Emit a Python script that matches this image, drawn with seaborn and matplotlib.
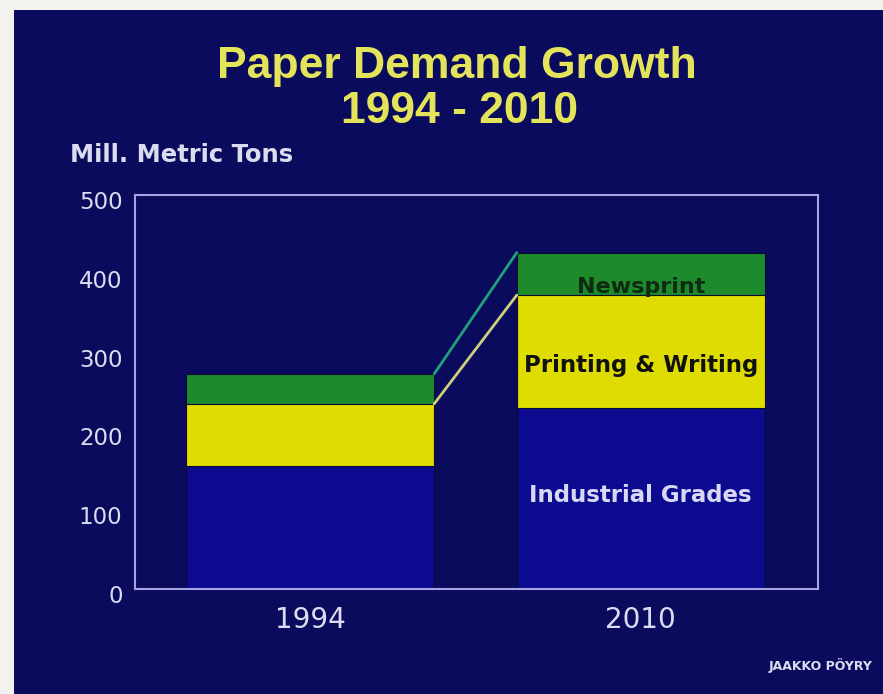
import matplotlib
matplotlib.use("Agg")
import matplotlib.pyplot as plt
import matplotlib.transforms as mtransforms
import seaborn as sns
import pandas as pd
from matplotlib.patches import Rectangle

years = ["1994", "2010"]
industrial = [156, 230]
printing = [79, 143]
newsprint = [38, 54]
yticks = [0, 100, 200, 300, 400, 500]

sns.set_theme(style="white")
plt.rcParams['font.family'] = ['DejaVu Sans']

BG = "#0b0b5e"
BLUE = "#0c0a8e"
YELLOW = "#dedc00"
GREEN = "#1d8b2c"
FRAME = "#a9a3e6"
TXT = "#dcdcf0"
PAPER = "#f4f2ee"

fig = plt.figure(figsize=(8.83, 6.94), dpi=100, facecolor=BG)
# white paper strips at left and top edges
fig.patches.append(Rectangle((0, 0), 14/883, 1, transform=fig.transFigure,
                             facecolor=PAPER, edgecolor="none", zorder=-1))
fig.patches.append(Rectangle((0, 1 - 10/694), 1, 10/694, transform=fig.transFigure,
                             facecolor=PAPER, edgecolor="none", zorder=-1))
ax = fig.add_axes([135/883, 1 - 589/694, (818-135)/883, (589-195)/694])
ax.set_facecolor(BG)
ax.set_zorder(2)

df = pd.DataFrame({
    "year": years,
    "ind": industrial,
    "pw": [a + b for a, b in zip(industrial, printing)],
    "tot": [a + b + c for a, b, c in zip(industrial, printing, newsprint)],
})
W = 0.75
sns.barplot(data=df, x="year", y="tot", color=GREEN, saturation=1, width=W,
            edgecolor="#0a0a30", linewidth=0.8, ax=ax)
sns.barplot(data=df, x="year", y="pw", color=YELLOW, saturation=1, width=W,
            edgecolor="#0a0a30", linewidth=0.8, ax=ax)
sns.barplot(data=df, x="year", y="ind", color=BLUE, saturation=1, width=W,
            edgecolor="#0a0a30", linewidth=0.8, ax=ax)

# connecting lines
ax.plot([0 + W/2, 1 - W/2], [df.tot[0], df.tot[1]], color="#22a07a", lw=2, zorder=5)
ax.plot([0 + W/2, 1 - W/2], [df.pw[0], df.pw[1]], color="#cfcf7a", lw=2, zorder=5)

ax.set_xlim(-0.53, 1.536)
ax.set_ylim(0, 500)
ax.set_yticks(yticks)
ax.set_yticklabels([str(t) for t in yticks], color=TXT, fontsize=16.5)
ax.set_xticks([0, 1])
ax.set_xticklabels(years, color=TXT, fontsize=20)
ax.tick_params(axis="both", length=0)
ax.tick_params(axis="y", pad=9)
ax.tick_params(axis="x", pad=12)
off = mtransforms.ScaledTranslation(0, -5/100, fig.dpi_scale_trans)
for lab in ax.get_yticklabels():
    lab.set_transform(lab.get_transform() + off)
ax.set_xlabel("")
ax.set_ylabel("")
for s in ax.spines.values():
    s.set_visible(True)
    s.set_color(FRAME)
    s.set_linewidth(1.5)

# segment labels
ax.text(1, df.pw[1] + 3, "Newsprint", ha="center", va="baseline",
        fontsize=16, fontweight="bold", color="#0e2a12")
ax.text(1, 276, "Printing & Writing", ha="center", va="baseline",
        fontsize=16.5, fontweight="bold", color="#111111")
ax.text(1, 110, "Industrial Grades", ha="center", va="baseline",
        fontsize=16.5, fontweight="bold", color="#d8d8f4")

fig.text(457/883, 1 - 78/694, "Paper Demand Growth", ha="center", va="baseline",
         fontsize=32, fontweight="bold", color="#e4e45a", family="Liberation Sans")
fig.text(460/883, 1 - 123/694, "1994 - 2010", ha="center", va="baseline",
         fontsize=32, fontweight="bold", color="#e4e45a", family="Liberation Sans")
fig.text(70/883, 1 - 162/694, "Mill. Metric Tons", ha="left", va="baseline",
         fontsize=17.5, fontweight="bold", color=TXT)
fig.text(873/883, 1 - 670/694, "JAAKKO PÖYRY", ha="right", va="baseline",
         fontsize=9, fontweight="bold", color=TXT)

fig.savefig("out.png", dpi=100, facecolor=fig.get_facecolor())
